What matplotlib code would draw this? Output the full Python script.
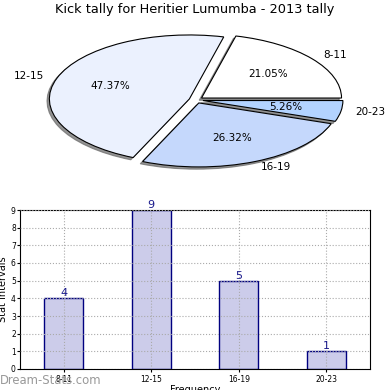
"""Kick tally pie + frequency bar chart"""
import numpy as np
import matplotlib
matplotlib.use('Agg')
import matplotlib.pyplot as plt

intervals = ['8-11', '12-15', '16-19', '20-23']
counts = [4, 9, 5, 1]
pie_colors = ['#ffffff', '#ebf1fe', '#c5d8fc', '#b3d3ff']
explode = [0.05, 0.05, 0.05, 0.05]

fig = plt.figure(figsize=(3.9, 3.9), dpi=100)

# Pie (squashed into an ellipse)
ax1 = fig.add_axes([0, 1 - 190 / 390, 1, 170 / 390])
ax1.pie(counts, labels=intervals, colors=pie_colors, explode=explode,
        autopct='%1.2f%%', startangle=0,
        shadow={'ox': -0.012, 'oy': -0.025, 'facecolor': '#666666',
                'edgecolor': '#666666', 'alpha': 0.7},
        wedgeprops={'edgecolor': 'black', 'linewidth': 0.8},
        textprops={'fontsize': 7.5})
ax1.set_aspect('auto')
ax1.set_xlim(-196 / 140, 194 / 140)
ax1.set_ylim(-90 / 64, 80 / 64)
ax1.axis('off')
fig.text(0.5, 1 - 10 / 390, 'Kick tally for Heritier Lumumba - 2013 tally',
         ha='center', va='center', fontsize=9.3)

# Bars
ax2 = fig.add_axes([20 / 390, 1 - 369 / 390, 350 / 390, 159 / 390])
x = np.arange(len(intervals))
ax2.bar(x, counts, width=0.45, color='#ccccea',
        edgecolor='#000080', linewidth=1)
for xi, c in zip(x, counts):
    ax2.text(xi, c, str(c), ha='center', va='bottom', fontsize=8,
             color='#1a1a8c')
ax2.set_xlim(-0.5, 3.5)
ax2.set_ylim(0, 9)
ax2.set_xticks(x)
ax2.set_xticklabels(intervals, fontsize=5.5)
ax2.set_yticks(range(10))
ax2.tick_params(axis='y', labelsize=5.5, length=2, pad=1)
ax2.tick_params(axis='x', length=2, pad=2)
ax2.grid(True, linestyle=':', color='#aaaaaa', linewidth=0.8)
ax2.set_axisbelow(False)
ax2.set_ylabel('Stat Intervals', fontsize=7, labelpad=2)
ax2.set_xlabel('Frequency', fontsize=7, labelpad=1)

# watermark
fig.text(0, 1 - 380 / 390, 'Dream-Stats.com', ha='left', va='center',
         fontsize=8.4, color='#999999')

fig.savefig('out.png', dpi=100)
